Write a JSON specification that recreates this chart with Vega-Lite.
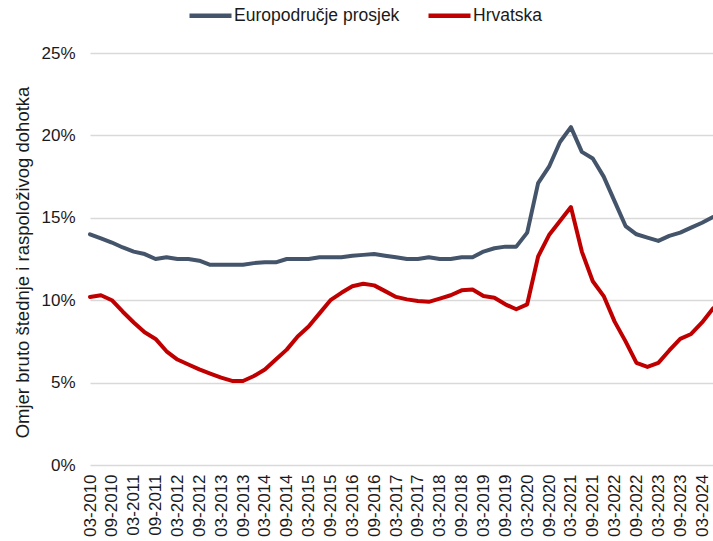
{
  "$schema": "https://vega.github.io/schema/vega-lite/v6.json",
  "width": 623,
  "height": 412,
  "autosize": {"type": "none"},
  "padding": {"left": 90, "top": 53, "right": 0, "bottom": 76},
  "background": "white",
  "config": {
    "view": {"stroke": null},
    "font": "Liberation Sans"
  },
  "data": {
    "values": [
      {"q": "03-2010", "Europodručje prosjek": 14.0, "Hrvatska": 10.2},
      {"q": "06-2010", "Europodručje prosjek": 13.75, "Hrvatska": 10.3},
      {"q": "09-2010", "Europodručje prosjek": 13.5, "Hrvatska": 10.0},
      {"q": "12-2010", "Europodručje prosjek": 13.2, "Hrvatska": 9.3},
      {"q": "03-2011", "Europodručje prosjek": 12.95, "Hrvatska": 8.65},
      {"q": "06-2011", "Europodručje prosjek": 12.8, "Hrvatska": 8.05},
      {"q": "09-2011", "Europodručje prosjek": 12.5, "Hrvatska": 7.65},
      {"q": "12-2011", "Europodručje prosjek": 12.6, "Hrvatska": 6.9},
      {"q": "03-2012", "Europodručje prosjek": 12.5, "Hrvatska": 6.4},
      {"q": "06-2012", "Europodručje prosjek": 12.5, "Hrvatska": 6.1},
      {"q": "09-2012", "Europodručje prosjek": 12.4, "Hrvatska": 5.8},
      {"q": "12-2012", "Europodručje prosjek": 12.15, "Hrvatska": 5.55},
      {"q": "03-2013", "Europodručje prosjek": 12.15, "Hrvatska": 5.3},
      {"q": "06-2013", "Europodručje prosjek": 12.15, "Hrvatska": 5.1},
      {"q": "09-2013", "Europodručje prosjek": 12.15, "Hrvatska": 5.1},
      {"q": "12-2013", "Europodručje prosjek": 12.25, "Hrvatska": 5.4},
      {"q": "03-2014", "Europodručje prosjek": 12.3, "Hrvatska": 5.8},
      {"q": "06-2014", "Europodručje prosjek": 12.3, "Hrvatska": 6.4},
      {"q": "09-2014", "Europodručje prosjek": 12.5, "Hrvatska": 7.0},
      {"q": "12-2014", "Europodručje prosjek": 12.5, "Hrvatska": 7.8},
      {"q": "03-2015", "Europodručje prosjek": 12.5, "Hrvatska": 8.4},
      {"q": "06-2015", "Europodručje prosjek": 12.6, "Hrvatska": 9.2},
      {"q": "09-2015", "Europodručje prosjek": 12.6, "Hrvatska": 10.0},
      {"q": "12-2015", "Europodručje prosjek": 12.6, "Hrvatska": 10.45},
      {"q": "03-2016", "Europodručje prosjek": 12.7, "Hrvatska": 10.85},
      {"q": "06-2016", "Europodručje prosjek": 12.75, "Hrvatska": 11.0},
      {"q": "09-2016", "Europodručje prosjek": 12.8, "Hrvatska": 10.9},
      {"q": "12-2016", "Europodručje prosjek": 12.7, "Hrvatska": 10.55},
      {"q": "03-2017", "Europodručje prosjek": 12.6, "Hrvatska": 10.2},
      {"q": "06-2017", "Europodručje prosjek": 12.5, "Hrvatska": 10.05},
      {"q": "09-2017", "Europodručje prosjek": 12.5, "Hrvatska": 9.95},
      {"q": "12-2017", "Europodručje prosjek": 12.6, "Hrvatska": 9.9},
      {"q": "03-2018", "Europodručje prosjek": 12.5, "Hrvatska": 10.1},
      {"q": "06-2018", "Europodručje prosjek": 12.5, "Hrvatska": 10.3},
      {"q": "09-2018", "Europodručje prosjek": 12.6, "Hrvatska": 10.6},
      {"q": "12-2018", "Europodručje prosjek": 12.6, "Hrvatska": 10.65},
      {"q": "03-2019", "Europodručje prosjek": 12.95, "Hrvatska": 10.25},
      {"q": "06-2019", "Europodručje prosjek": 13.15, "Hrvatska": 10.15},
      {"q": "09-2019", "Europodručje prosjek": 13.25, "Hrvatska": 9.75},
      {"q": "12-2019", "Europodručje prosjek": 13.25, "Hrvatska": 9.45},
      {"q": "03-2020", "Europodručje prosjek": 14.1, "Hrvatska": 9.75},
      {"q": "06-2020", "Europodručje prosjek": 17.1, "Hrvatska": 12.65},
      {"q": "09-2020", "Europodručje prosjek": 18.1, "Hrvatska": 13.95},
      {"q": "12-2020", "Europodručje prosjek": 19.6, "Hrvatska": 14.8},
      {"q": "03-2021", "Europodručje prosjek": 20.5, "Hrvatska": 15.65},
      {"q": "06-2021", "Europodručje prosjek": 19.0, "Hrvatska": 12.95},
      {"q": "09-2021", "Europodručje prosjek": 18.6, "Hrvatska": 11.15},
      {"q": "12-2021", "Europodručje prosjek": 17.5, "Hrvatska": 10.25},
      {"q": "03-2022", "Europodručje prosjek": 16.0, "Hrvatska": 8.7},
      {"q": "06-2022", "Europodručje prosjek": 14.5, "Hrvatska": 7.5},
      {"q": "09-2022", "Europodručje prosjek": 14.0, "Hrvatska": 6.2},
      {"q": "12-2022", "Europodručje prosjek": 13.8, "Hrvatska": 5.95},
      {"q": "03-2023", "Europodručje prosjek": 13.6, "Hrvatska": 6.2},
      {"q": "06-2023", "Europodručje prosjek": 13.9, "Hrvatska": 6.95},
      {"q": "09-2023", "Europodručje prosjek": 14.1, "Hrvatska": 7.65},
      {"q": "12-2023", "Europodručje prosjek": 14.4, "Hrvatska": 7.95},
      {"q": "03-2024", "Europodručje prosjek": 14.7, "Hrvatska": 8.65},
      {"q": "06-2024", "Europodručje prosjek": 15.05, "Hrvatska": 9.5}
    ]
  },
  "transform": [
    {"fold": ["Europodručje prosjek", "Hrvatska"], "as": ["serija", "vrijednost"]}
  ],
  "mark": {"type": "line", "strokeWidth": 4, "strokeJoin": "round", "strokeCap": "round"},
  "encoding": {
    "x": {
      "field": "q",
      "type": "ordinal",
      "sort": null,
      "scale": {"type": "point", "padding": 0},
      "axis": {
        "title": null,
        "domain": false,
        "ticks": false,
        "grid": false,
        "labelAngle": 270,
        "labelAlign": "right",
        "labelBaseline": "middle",
        "labelPadding": 9,
        "labelFontSize": 17,
        "labelColor": "#1a1a1a",
        "labelOverlap": false,
        "labelExpr": "(indexof(datum.value, '03-') == 0 || indexof(datum.value, '09-') == 0) ? datum.value : ''"
      }
    },
    "y": {
      "field": "vrijednost",
      "type": "quantitative",
      "scale": {"domain": [0, 25], "nice": false, "zero": true},
      "axis": {
        "title": "Omjer bruto štednje i raspoloživog dohotka",
        "titleFontSize": 18.5,
        "titleFontWeight": "normal",
        "titleColor": "#1a1a1a",
        "titleAngle": 270,
        "titleAlign": "center",
        "titleBaseline": "middle",
        "titleX": -68,
        "titleY": 209,
        "values": [0, 5, 10, 15, 20, 25],
        "labelExpr": "datum.value + '%'",
        "labelFontSize": 17,
        "labelColor": "#1a1a1a",
        "labelPadding": 15,
        "domain": false,
        "ticks": false,
        "grid": true,
        "gridColor": "#d9d9d9",
        "gridWidth": 1.3
      }
    },
    "color": {
      "field": "serija",
      "type": "nominal",
      "scale": {"domain": ["Europodručje prosjek", "Hrvatska"], "range": ["#44546A", "#C00000"]},
      "legend": {
        "title": null,
        "orient": "none",
        "legendX": 97,
        "legendY": -61,
        "direction": "horizontal",
        "symbolType": "stroke",
        "symbolSize": 1764,
        "symbolStrokeWidth": 4.5,
        "labelFontSize": 17.5,
        "labelColor": "#1a1a1a",
        "labelLimit": 0,
        "labelOffset": 0,
        "columnPadding": 19,
        "padding": 0
      }
    }
  }
}
